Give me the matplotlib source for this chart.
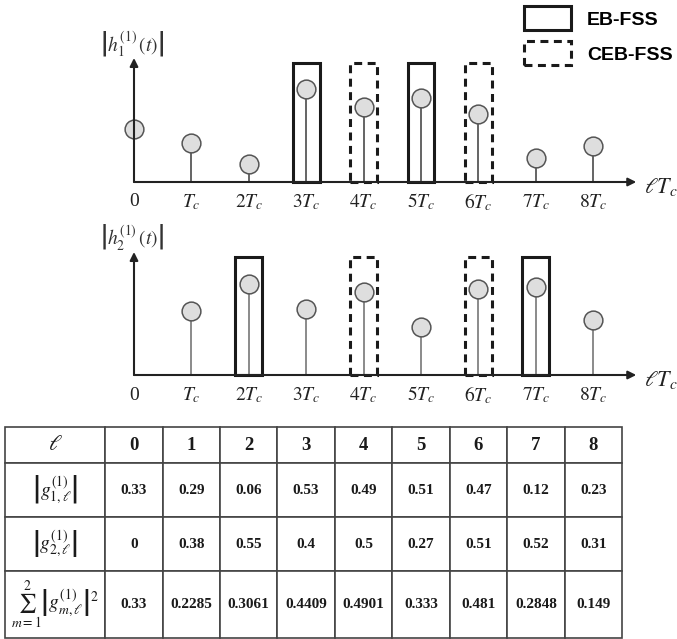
import matplotlib
matplotlib.use("Agg")
import matplotlib.pyplot as plt

plt.rcParams['mathtext.fontset'] = 'stix'
plt.rcParams['font.family'] = ['Liberation Serif', 'DejaVu Serif']

# ---------------- data ----------------
lags = [0, 1, 2, 3, 4, 5, 6, 7, 8]
tick_labels = ['0', '$T_c$', '$2T_c$', '$3T_c$', '$4T_c$', '$5T_c$', '$6T_c$', '$7T_c$', '$8T_c$']
h1_heights = [0.53, 0.39, 0.18, 0.93, 0.75, 0.84, 0.68, 0.24, 0.36]
h2_lags = [1, 2, 3, 4, 5, 6, 7, 8]
h2_heights = [0.64, 0.91, 0.66, 0.83, 0.48, 0.86, 0.88, 0.55]
eb_lags_1 = [3, 5]
ceb_lags_1 = [4, 6]
eb_lags_2 = [2, 7]
ceb_lags_2 = [4, 6]
box_height_1 = 1.19
box_height_2 = 1.18

col_header = ['0', '1', '2', '3', '4', '5', '6', '7', '8']
g1_vals = ['0.33', '0.29', '0.06', '0.53', '0.49', '0.51', '0.47', '0.12', '0.23']
g2_vals = ['0', '0.38', '0.55', '0.4', '0.5', '0.27', '0.51', '0.52', '0.31']
sum_vals = ['0.33', '0.2285', '0.3061', '0.4409', '0.4901', '0.333', '0.481', '0.2848', '0.149']
row_labels = [r'$\ell$',
              r'$\left|g_{1,\ell}^{(1)}\right|$',
              r'$\left|g_{2,\ell}^{(1)}\right|$',
              r'$\sum_{m=1}^{2}\left|g_{m,\ell}^{(1)}\right|^2$']

# ---------------- figure ----------------
W, H = 677, 639
fig = plt.figure(figsize=(W / 100, H / 100), dpi=100)

px_per_unit = 57.4
x0_px = 134
xlim = (-x0_px / px_per_unit, (W - x0_px) / px_per_unit)

axis_col = '#222222'
circ_face = '#dedede'
circ_edge = '#555555'


def panel(ax, xs, hs, eb, ceb, box_h, ylabel, stem_col, arrow_top):
    ax.set_xlim(*xlim)
    ax.axis('off')
    # boxes
    ax.bar(eb, [box_h] * len(eb), width=0.47, fill=False, edgecolor='#1a1a1a',
           linewidth=2.2, zorder=2)
    ax.bar(ceb, [box_h] * len(ceb), width=0.47, fill=False, edgecolor='#1a1a1a',
           linewidth=2.2, linestyle=(0, (2.6, 1.8)), zorder=2)
    # stems
    ax.vlines(xs, 0, hs, color=stem_col, linewidth=1.2, zorder=3)
    ax.plot(xs, hs, 'o', markersize=13.5, markerfacecolor=circ_face,
            markeredgecolor=circ_edge, markeredgewidth=1.1, zorder=4)
    # axes arrows
    ax.annotate('', xy=(8.75, 0), xytext=(0, 0),
                arrowprops=dict(arrowstyle='-|>', color=axis_col, lw=1.5,
                                mutation_scale=12, shrinkA=0, shrinkB=0), zorder=5)
    ax.annotate('', xy=(0, arrow_top), xytext=(0, 0),
                arrowprops=dict(arrowstyle='-|>', color=axis_col, lw=1.5,
                                mutation_scale=12, shrinkA=0, shrinkB=0), zorder=5)
    for x, lab in zip(lags, tick_labels):
        ax.text(x, -0.2, lab, ha='center', va='center', fontsize=14, color='#222222')
    ax.text(9.18, -0.05, r'$\ell T_c$', ha='center', va='center', fontsize=16, color='#222222')
    ax.text(-0.03, 1.38, ylabel, ha='center', va='center', fontsize=14, color='#333333')


# top panel: pixel rows 0..215, baseline at 182
ax1 = fig.add_axes([0, 1 - 215 / H, 1, 215 / H])
ax1.set_ylim(-0.33, 1.82)
panel(ax1, lags, h1_heights, eb_lags_1, ceb_lags_1, box_height_1,
      r'$\left|h_1^{(1)}\,(t)\right|$', '#4a4a4a', 1.24)

# bottom panel: pixel rows 215..410, baseline at 375
ax2 = fig.add_axes([0, 1 - 410 / H, 1, 195 / H])
ax2.set_ylim(-0.35, 1.60)
panel(ax2, h2_lags, h2_heights, eb_lags_2, ceb_lags_2, box_height_2,
      r'$\left|h_2^{(1)}\,(t)\right|$', '#777777', 1.23)

# legend
eb_handle = ax1.patches[0]
ceb_handle = ax1.patches[len(eb_lags_1)]
leg = fig.legend([eb_handle, ceb_handle], ['EB-FSS', 'CEB-FSS'],
                 loc='upper left', bbox_to_anchor=(524 / W, 1 - 6 / H),
                 frameon=False, borderpad=0, borderaxespad=0,
                 handlelength=2.42, handleheight=1.55, handletextpad=0.82,
                 labelspacing=0.55,
                 prop={'family': 'Liberation Sans', 'weight': 'bold', 'size': 14})

# ---------------- table ----------------
ax3 = fig.add_axes([0, 0, 1, 1])
ax3.axis('off')
cell_text = [[row_labels[0]] + col_header,
             [row_labels[1]] + g1_vals,
             [row_labels[2]] + g2_vals,
             [row_labels[3]] + sum_vals]
col_widths = [100] + [57.4] * 9
tbl = ax3.table(cellText=cell_text, cellLoc='center', colWidths=col_widths,
                bbox=[5 / W, 1 / H, 617 / W, 211 / H])
tbl.auto_set_font_size(False)
row_h = [36, 54, 54, 67]
for (r, c), cell in tbl.get_celld().items():
    cell.set_height(row_h[r])
    cell.set_edgecolor('#444444')
    cell.set_linewidth(1.2)
    t = cell.get_text()
    t.set_color('#1a1a1a')
    if c == 0:
        t.set_fontsize(16 if r == 0 else 14)
    elif r == 0:
        t.set_fontsize(13.5)
        t.set_fontweight('bold')
    else:
        t.set_fontsize(11)
        t.set_fontweight('bold')

fig.savefig('out.png', dpi=100)
